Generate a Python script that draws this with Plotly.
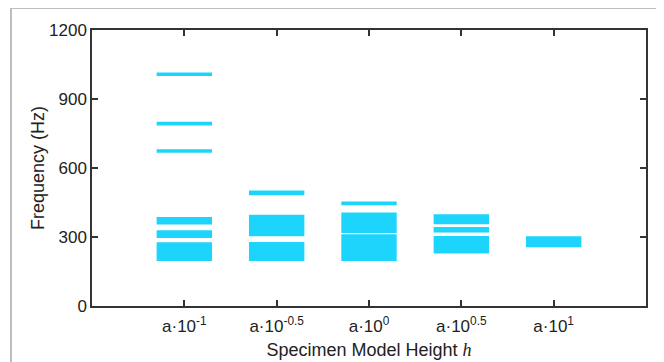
import plotly.graph_objects as go

# Category positions and tick labels
categories = [1, 2, 3, 4, 5]
tick_labels = ["a·10<sup>-1</sup>", "a·10<sup>-0.5</sup>", "a·10<sup>0</sup>",
               "a·10<sup>0.5</sup>", "a·10<sup>1</sup>"]

# Frequency bands (low, high) in Hz for each specimen height
bands_1 = [(1000, 1015), (785, 801), (666, 682), (354, 387), (296, 329), (196, 277)]
bands_2 = [(482, 502), (303, 397), (196, 278)]
bands_3 = [(438, 454), (317, 407), (196, 312)]
bands_4 = [(355, 399), (320, 343), (228, 304)]
bands_5 = [(255, 303)]

all_bands = [bands_1, bands_2, bands_3, bands_4, bands_5]

xs, bases, heights = [], [], []
for c, bands in zip(categories, all_bands):
    for lo, hi in bands:
        xs.append(c)
        bases.append(lo)
        heights.append(hi - lo)

fig = go.Figure()
fig.add_trace(go.Bar(
    x=xs, y=heights, base=bases, width=0.6,
    marker=dict(color="#1DD5FC", line=dict(width=0)),
    showlegend=False, hoverinfo="skip",
))

FONT = "Liberation Sans, Arial, sans-serif"
axis_common = dict(
    showline=True, linecolor="#333333", linewidth=1.5, mirror="ticks",
    ticks="inside", ticklen=6, tickcolor="#333333", tickwidth=1.5,
    showgrid=False, zeroline=False, automargin=False,
    tickfont=dict(family=FONT, size=17, color="#222222"),
)

# page body has an 8px default margin, so the figure is 8px smaller
W, H = 656, 354
fig.update_layout(
    width=W, height=H,
    margin=dict(l=84, r=18, t=22, b=56),
    paper_bgcolor="white", plot_bgcolor="white",
    barmode="overlay",
    font=dict(family=FONT, size=17, color="#222222"),
    xaxis=dict(
        range=[0, 6], tickvals=categories, ticktext=tick_labels,
        ticklabelstandoff=4,
        title=dict(text="Specimen Model Height <span style=\"font-family:'Liberation Serif'\"><i>h</i></span>",
                   font=dict(size=18), standoff=8),
        **axis_common,
    ),
    yaxis=dict(
        range=[0, 1200], tickvals=[0, 300, 600, 900, 1200],
        title=dict(text="Frequency (Hz)", font=dict(size=18), standoff=0),
        **axis_common,
    ),
    shapes=[dict(
        type="rect", xref="paper", yref="paper",
        x0=(3 - 84) / 554, x1=(652.5 - 84) / 554,
        y0=-0.4, y1=(297.5 + 0.5) / 276,
        line=dict(color="#BDBDBD", width=2), fillcolor="rgba(0,0,0,0)", layer="below",
    )],
)

fig.write_html("out.html")
